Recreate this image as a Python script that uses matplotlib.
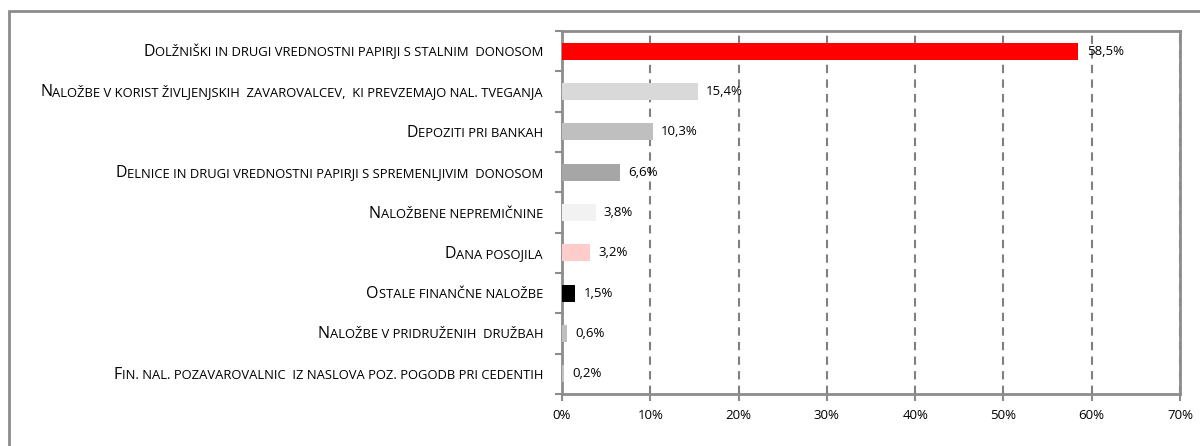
import matplotlib
matplotlib.use("Agg")
import matplotlib.pyplot as plt
from matplotlib.patches import Rectangle
from matplotlib.ticker import FixedLocator, FuncFormatter

categories = [
    "Dolžniški in drugi vrednostni papirji s stalnim  donosom",
    "Naložbe v korist življenjskih  zavarovalcev,  ki prevzemajo nal. tveganja",
    "Depoziti pri bankah",
    "Delnice in drugi vrednostni papirji s spremenljivim  donosom",
    "Naložbene nepremičnine",
    "Dana posojila",
    "Ostale finančne naložbe",
    "Naložbe v pridruženih  družbah",
    "Fin. nal. pozavarovalnic  iz naslova poz. pogodb pri cedentih",
]
values = [58.5, 15.4, 10.3, 6.6, 3.8, 3.2, 1.5, 0.6, 0.2]
colors = ["#FF0000", "#D9D9D9", "#BFBFBF", "#A6A6A6", "#F2F2F2",
          "#FFCCCC", "#000000", "#BFBFBF", "#BFBFBF"]
xticks = [0, 10, 20, 30, 40, 50, 60, 70]

plt.rcParams["font.family"] = ["Open Sans", "DejaVu Sans"]

fig = plt.figure(figsize=(12, 4.46), dpi=100)
ax = fig.add_axes([562 / 1200, 1 - 394 / 446, 618 / 1200, 363 / 446])

# outer frame
fig.patches.append(Rectangle((9 / 1200, -0.1), 1.2, 1 - 11 / 446 + 0.1,
                             transform=fig.transFigure, fill=False,
                             edgecolor="#8C8C8C", linewidth=2))

ypos = list(range(len(categories)))
ax.barh(ypos, values, height=0.42, color=colors, zorder=3)
ax.set_ylim(len(categories) - 0.5, -0.5)
ax.set_xlim(0, 70)

for y, v in zip(ypos, values):
    ax.annotate(f"{v:.1f}%".replace(".", ","), (v, y), xytext=(6, 0),
                textcoords="offset points", va="center", ha="left",
                fontsize=9.5, zorder=4)

ax.xaxis.set_major_locator(FixedLocator(xticks))
ax.xaxis.set_major_formatter(FuncFormatter(lambda x, p: f"{x:.0f}%"))
ax.tick_params(axis="x", length=5, width=1.5, color="#8C8C8C", pad=6,
               labelsize=9.5)
ax.set_yticks([y + 0.5 for y in [-1] + ypos])
ax.set_yticklabels([])
ax.tick_params(axis="y", length=5, width=1.5, color="#8C8C8C")
ax.grid(axis="x", linestyle=(0, (4, 3)), color="#808080", linewidth=1.5,
        zorder=1)
for s in ax.spines.values():
    s.set_color("#8C8C8C")
    s.set_linewidth(2)

# category labels in small caps
renderer = fig.canvas.get_renderer()
x0 = ax.transAxes.transform((0, 0))[0] - 19
for y, label in zip(ypos, categories):
    yd = ax.transData.transform((0, y))[1]
    runs = []
    for ch in label:
        big = ch.isupper()
        if runs and runs[-1][1] == big:
            runs[-1][0] += ch
        else:
            runs.append([ch, big])
    x = x0
    for txt, big in reversed(runs):
        t = fig.text(x / 1200, (yd - 5) / 446, txt if big else txt.upper(),
                     fontsize=11.5 if big else 9.4, ha="right",
                     va="baseline", color="black")
        w = t.get_window_extent(renderer).width
        x -= w

fig.savefig("out.png", dpi=100)
